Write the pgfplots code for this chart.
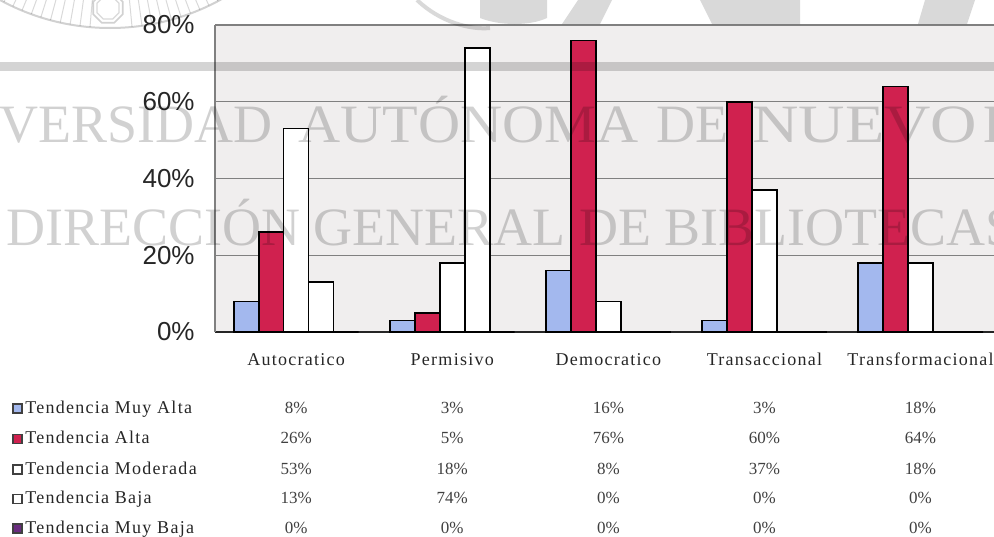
\documentclass[border=0pt]{standalone}
\usepackage{fontspec}
\setmainfont{Liberation Serif}
\newfontfamily\sansf{Liberation Sans}
\newfontfamily\lsf[LetterSpace=7]{Liberation Serif}
\usepackage{pgfplots}
\pgfplotsset{compat=1.18}
\definecolor{cblue}{HTML}{A3B8EE}
\definecolor{cred}{HTML}{D0214F}
\definecolor{cpurple}{HTML}{6A2C80}
\definecolor{bgc}{HTML}{F0EEEE}
\begin{document}
\begin{tikzpicture}[tv/.style={font=\fontsize{8.5}{8.5}\selectfont, text=black!75, anchor=base, inner sep=0pt}]
\begin{axis}[
  at={(107.5pt,-166pt)}, anchor=south west,
  scale only axis, width=390.25pt, height=153.5pt,
  xmin=-0.52, xmax=4.48, ymin=0, ymax=80,
  ybar=0pt, bar width=0.16,
  clip=false,
  axis background/.style={fill=bgc},
  axis x line*=bottom, axis y line*=left,
  x axis line style={black!85, line width=0.8pt},
  y axis line style={black!50, line width=0.6pt},
  ytick={0,20,40,60,80},
  yticklabels={0\%,20\%,40\%,60\%,80\%},
  yticklabel style={font=\sansf\fontsize{13}{13}\selectfont, text=black!85, inner sep=0pt, anchor=east, xshift=-10pt},
  ymajorgrids, grid style={black!50, line width=0.6pt},
  xtick={0,1,2,3,4},
  xticklabels={Autocratico,Permisivo,Democratico,Transaccional,Transformacional},
  xticklabel style={font=\lsf\fontsize{9}{9}\selectfont, text=black!85, inner sep=0pt, anchor=base, yshift=-16.5pt},
  major tick length=0pt,
]
\addplot[fill=cblue, draw=black, line width=0.8pt] coordinates {(0,8) (1,3) (2,16) (3,3) (4,18)};
\addplot[fill=cred, draw=black, line width=0.8pt] coordinates {(0,26) (1,5) (2,76) (3,60) (4,64)};
\addplot[fill=white, draw=black, line width=0.8pt] coordinates {(0,53) (1,18) (2,8) (3,37) (4,18)};
\addplot[fill=white, draw=black, line width=0.8pt] coordinates {(0,13) (1,74) (2,0) (3,0) (4,0)};
\addplot[fill=cpurple, draw=black, line width=0.8pt] coordinates {(0,0) (1,0) (2,0) (3,0) (4,0)};
% data table
\node[tv] at ([yshift=-40.5pt]axis cs:0,0) {8\%};
\node[tv] at ([yshift=-40.5pt]axis cs:1,0) {3\%};
\node[tv] at ([yshift=-40.5pt]axis cs:2,0) {16\%};
\node[tv] at ([yshift=-40.5pt]axis cs:3,0) {3\%};
\node[tv] at ([yshift=-40.5pt]axis cs:4,0) {18\%};
\node[tv] at ([yshift=-55.75pt]axis cs:0,0) {26\%};
\node[tv] at ([yshift=-55.75pt]axis cs:1,0) {5\%};
\node[tv] at ([yshift=-55.75pt]axis cs:2,0) {76\%};
\node[tv] at ([yshift=-55.75pt]axis cs:3,0) {60\%};
\node[tv] at ([yshift=-55.75pt]axis cs:4,0) {64\%};
\node[tv] at ([yshift=-71pt]axis cs:0,0) {53\%};
\node[tv] at ([yshift=-71pt]axis cs:1,0) {18\%};
\node[tv] at ([yshift=-71pt]axis cs:2,0) {8\%};
\node[tv] at ([yshift=-71pt]axis cs:3,0) {37\%};
\node[tv] at ([yshift=-71pt]axis cs:4,0) {18\%};
\node[tv] at ([yshift=-85.75pt]axis cs:0,0) {13\%};
\node[tv] at ([yshift=-85.75pt]axis cs:1,0) {74\%};
\node[tv] at ([yshift=-85.75pt]axis cs:2,0) {0\%};
\node[tv] at ([yshift=-85.75pt]axis cs:3,0) {0\%};
\node[tv] at ([yshift=-85.75pt]axis cs:4,0) {0\%};
\node[tv] at ([yshift=-100.5pt]axis cs:0,0) {0\%};
\node[tv] at ([yshift=-100.5pt]axis cs:1,0) {0\%};
\node[tv] at ([yshift=-100.5pt]axis cs:2,0) {0\%};
\node[tv] at ([yshift=-100.5pt]axis cs:3,0) {0\%};
\node[tv] at ([yshift=-100.5pt]axis cs:4,0) {0\%};
\end{axis}
\begin{scope}[x=0.5pt,y=-0.5pt]
% legend keys of the data table
\tikzset{lk/.style={draw=black!75, line width=0.6pt}, lt/.style={anchor=base west, inner sep=0pt, font=\lsf\fontsize{9}{9}\selectfont, text=black!85},
  wm/.style={anchor=base west, inner sep=0pt, text=black, opacity=0.18, font=\fontsize{27}{27}\selectfont}}
\draw[lk, fill=cblue] (13,404) rectangle (22,413);
\node[lt] at (25,413) {Tendencia Muy Alta};
\draw[lk, fill=cred] (13,434.5) rectangle (22,443.5);
\node[lt] at (25,443.5) {Tendencia Alta};
\draw[lk, fill=white] (13,465) rectangle (22,474);
\node[lt] at (25,474) {Tendencia Moderada};
\draw[lk, fill=white] (13,494.5) rectangle (22,503.5);
\node[lt] at (25,503.5) {Tendencia Baja};
\draw[lk, fill=cpurple] (13,524) rectangle (22,533);
\node[lt] at (25,533) {Tendencia Muy Baja};
% watermark: seal, band and large letters
\fill[black, opacity=0.17] (0,62) rectangle (994,71);
\draw[black, opacity=0.18, line width=1pt] (110,-202) circle (230);
\foreach \a in {62,64.5,...,85,95,97.5,...,118}
  \draw[black, opacity=0.15, line width=0.5pt] (110,-202) ++(\a:200) -- ++(\a:30);
\draw[black, opacity=0.18, line width=0.8pt] (108,8) +(22.5:16) -- +(67.5:16) -- +(112.5:16) -- +(157.5:16) -- +(202.5:16) -- +(247.5:16) -- +(292.5:16) -- +(337.5:16) -- cycle;
\draw[black, opacity=0.15, line width=0.6pt] (108,8) +(22.5:12) -- +(67.5:12) -- +(112.5:12) -- +(157.5:12) -- +(202.5:12) -- +(247.5:12) -- +(292.5:12) -- +(337.5:12) -- cycle;
\fill[black, opacity=0.15] (480,0) -- (547,0) -- (547,18) .. controls (530,26) and (500,26) .. (480,18) -- cycle;
\fill[black, opacity=0.15] (578,0) -- (612,0) -- (600,24) -- (562,24) -- cycle;
\fill[black, opacity=0.15] (700,0) -- (800,0) -- (800,24) -- (712,24) -- cycle;
\fill[black, opacity=0.15] (925,0) -- (975,0) -- (967,24) -- (918,24) -- cycle;
\draw[black, opacity=0.15, line width=2pt] (417,0) .. controls (440,22) and (470,30) .. (490,28);
\node[wm] at (-1,142) {VERSIDAD};
\node[wm, xscale=1.08, transform shape] at (298,142) {AUTÓNOMA};
\node[wm] at (656,142) {DE};
\node[wm, xscale=1.19, transform shape] at (752,142) {NUEVO};
\node[wm] at (983,142) {LEÓN};
\node[wm] at (6,245) {DIRECCIÓN GENERAL DE BIBLIOTECAS};
\pgfresetboundingbox
\path[use as bounding box] (0,0) rectangle (994,536);
\end{scope}
\end{tikzpicture}
\end{document}
